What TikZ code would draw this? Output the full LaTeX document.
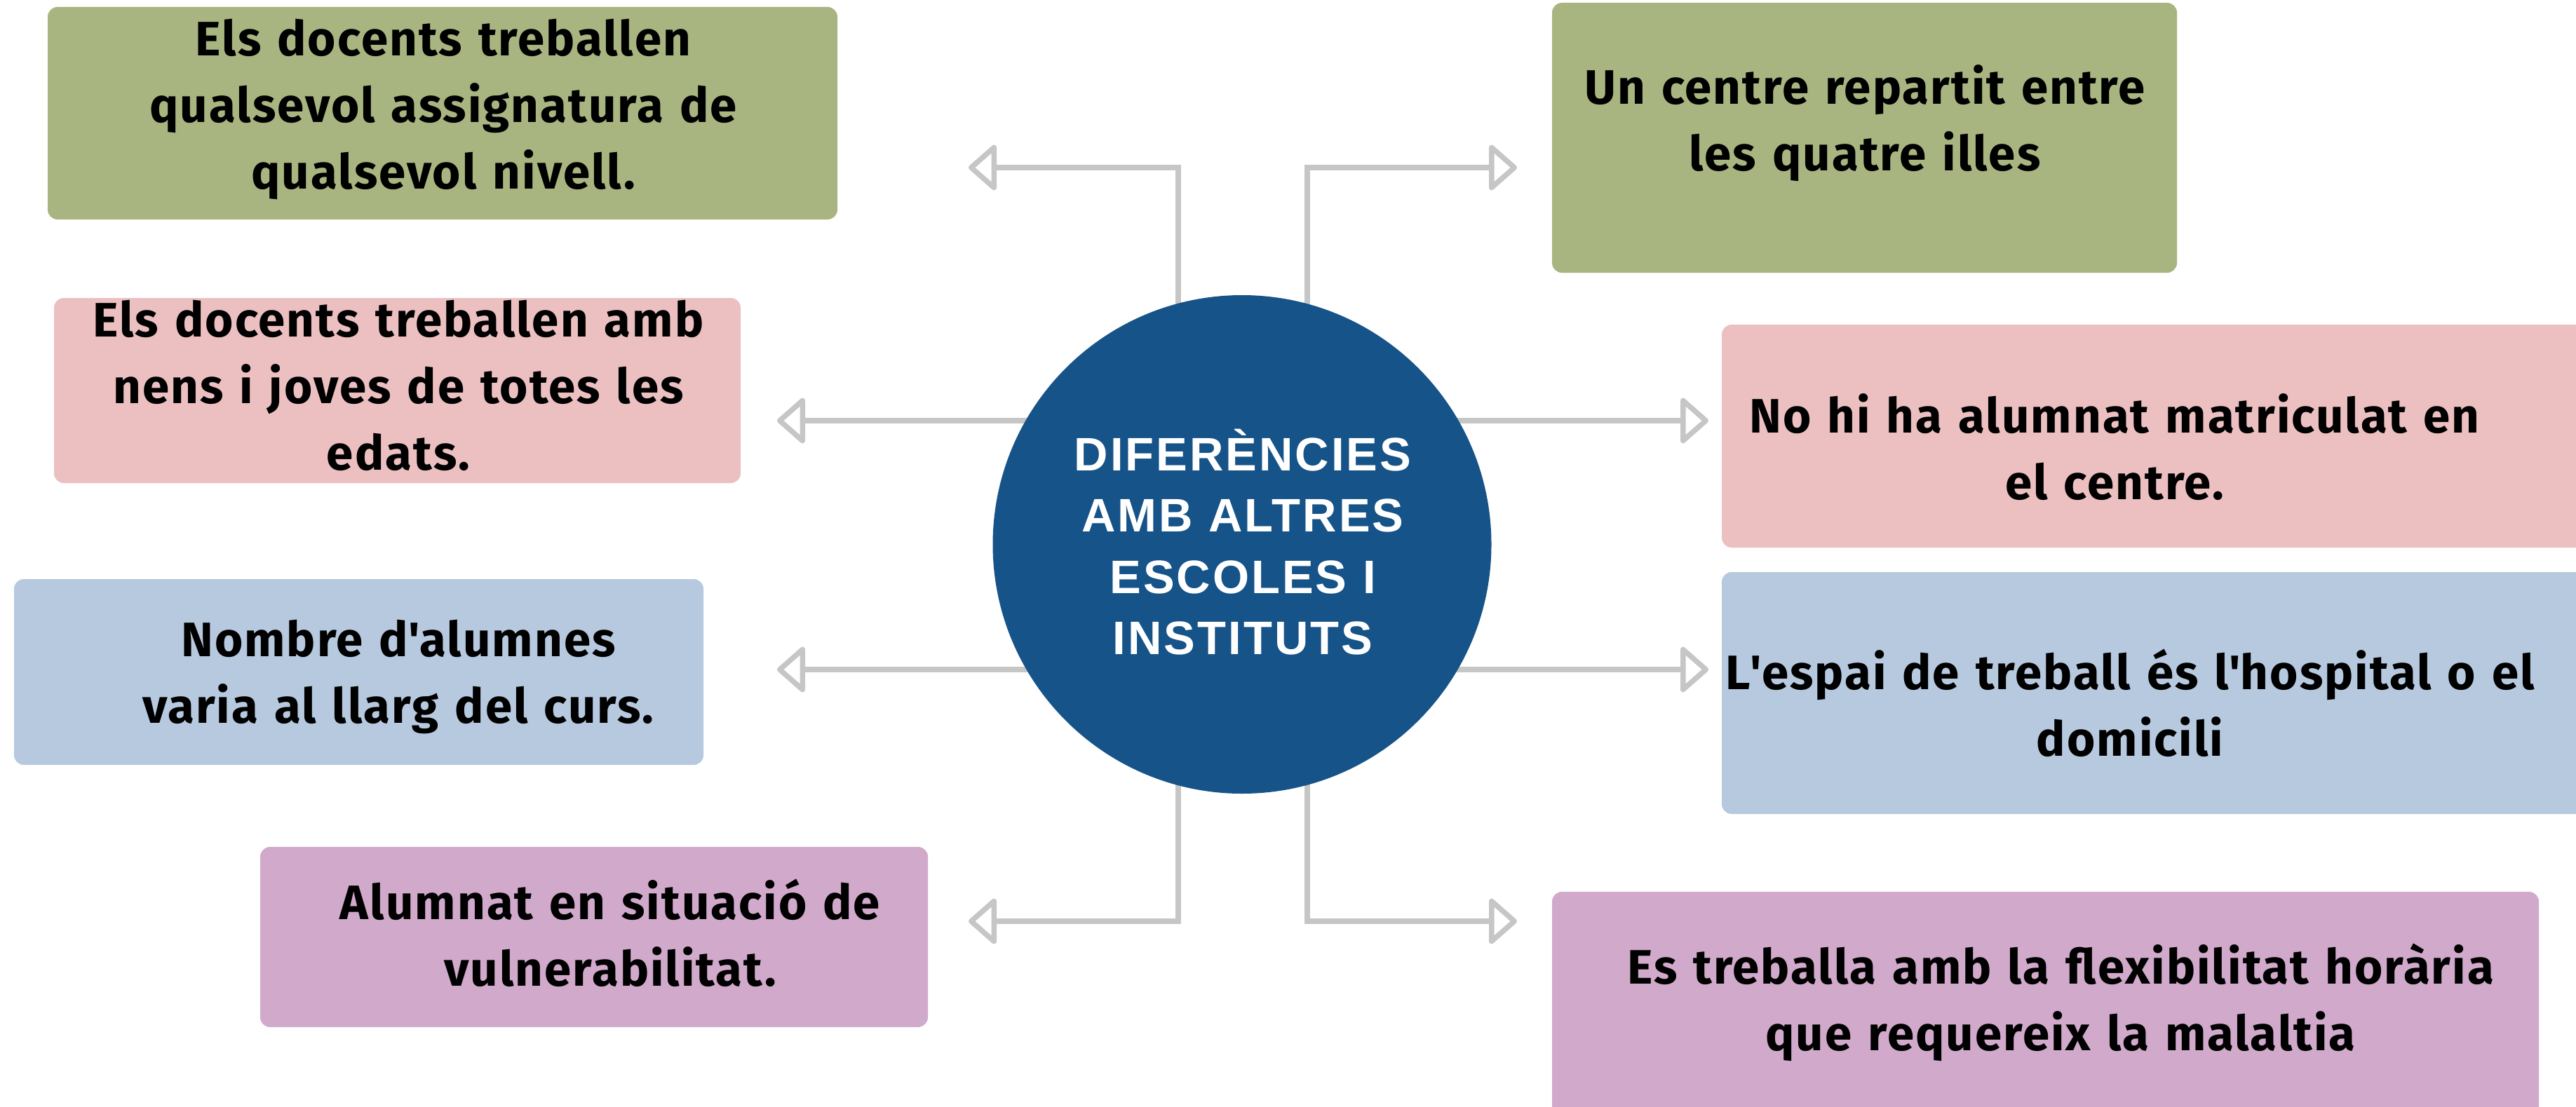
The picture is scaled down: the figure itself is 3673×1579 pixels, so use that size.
\documentclass[tikz,border=0pt]{standalone}
\usepackage{fontspec}
\newfontfamily\boxfont{Fira Sans}[LetterSpace=3]
\newfontfamily\hubfont{Liberation Sans}[LetterSpace=4.5]
\usetikzlibrary{arrows.meta,backgrounds}
\definecolor{cgreen}{HTML}{A8B580}
\definecolor{cpink}{HTML}{ECC0C1}
\definecolor{cblue}{HTML}{B7C9DF}
\definecolor{cpurple}{HTML}{D0A9CB}
\definecolor{chub}{HTML}{165389}
\definecolor{cline}{HTML}{C6C6C6}
\begin{document}
\begin{tikzpicture}[x=1pt,y=-1pt,
  card/.style={rectangle, rounded corners=14pt, inner sep=0pt, draw=none},
  txt/.style={anchor=base, text width=1500pt, align=center, inner sep=0pt,
    font=\boxfont\bfseries\fontsize{69}{95}\selectfont},
  hubtxt/.style={anchor=base, text width=700pt, align=center, inner sep=0pt, text=white,
    font=\hubfont\bfseries\fontsize{67}{87.5}\selectfont},
  conn/.style={draw=cline, line width=7.5pt},
  tipped/.style={-{Triangle[open,round,length=42pt,width=72pt]}}
]
\useasboundingbox (0,0) rectangle (3673,1579);
\clip (0,0) rectangle (3673,1579);

% boxes
\node[card, fill=cgreen, minimum width=1126pt, minimum height=303pt] (b1) at (631,161.5) {};
\node[card, fill=cgreen, minimum width=891pt, minimum height=385pt] (b2) at (2658.5,196.5) {};
\node[card, fill=cpink, minimum width=979pt, minimum height=264pt] (b3) at (566.5,557) {};
\node[card, fill=cpink, minimum width=1245pt, minimum height=318pt] (b4) at (3077.5,622) {};
\node[card, fill=cblue, minimum width=983pt, minimum height=265pt] (b5) at (511.5,958.5) {};
\node[card, fill=cblue, minimum width=1245pt, minimum height=345pt] (b6) at (3077.5,988.5) {};
\node[card, fill=cpurple, minimum width=952pt, minimum height=257pt] (b7) at (847,1336.5) {};
\node[card, fill=cpurple, minimum width=1407pt, minimum height=348pt] (b8) at (2916.5,1446) {};

% texts
\node[txt] (t1) at (632,80) {Els docents treballen\\qualsevol assignatura de\\qualsevol nivell.};
\node[txt] (t2) at (2659,148) {Un centre repartit entre\\les quatre illes};
\node[txt] (t3) at (568,480) {Els docents treballen amb\\nens i joves de totes les\\edats.};
\node[txt] (t4) at (3015,617) {No hi ha alumnat matriculat en\\el centre.};
\node[txt] (t5) at (568,936) {Nombre d\textquotesingle alumnes\\varia al llarg del curs.};
\node[txt] (t6) at (3037,983) {L\textquotesingle espai de treball és l\textquotesingle hospital o el\\domicili};
\node[txt] (t7) at (870,1311) {Alumnat en situació de\\vulnerabilitat.};
\node[txt] (t8) at (2938,1403) {Es treballa amb la flexibilitat horària\\que requereix la malaltia};

% hub
\node[circle, fill=chub, minimum size=711pt, inner sep=0pt] (hub) at (1771,776.5) {};
\node[hubtxt] (hubt) at (1772,671) {DIFERÈNCIES\\AMB ALTRES\\ESCOLES I\\INSTITUTS};

% free ends of connectors
\coordinate (e1) at (1381,239);
\coordinate (e2) at (2163,239);
\coordinate (e3) at (1108,600);
\coordinate (e4) at (2436,600);
\coordinate (e5) at (1108,955);
\coordinate (e6) at (2436,955);
\coordinate (e7) at (1381,1314);
\coordinate (e8) at (2163,1314);

\begin{scope}[on background layer]
  \fill[white] (0,0) rectangle (3673,1579);
  \draw[conn,tipped] ([xshift=-91pt]hub.center) |- (e1);
  \draw[conn,tipped] ([xshift=93pt]hub.center) |- (e2);
  \draw[conn,tipped] (hub.center |- e3) -- (e3);
  \draw[conn,tipped] (hub.center |- e4) -- (e4);
  \draw[conn,tipped] (hub.center |- e5) -- (e5);
  \draw[conn,tipped] (hub.center |- e6) -- (e6);
  \draw[conn,tipped] ([xshift=-91pt]hub.center) |- (e7);
  \draw[conn,tipped] ([xshift=93pt]hub.center) |- (e8);
\end{scope}
\end{tikzpicture}
\end{document}
